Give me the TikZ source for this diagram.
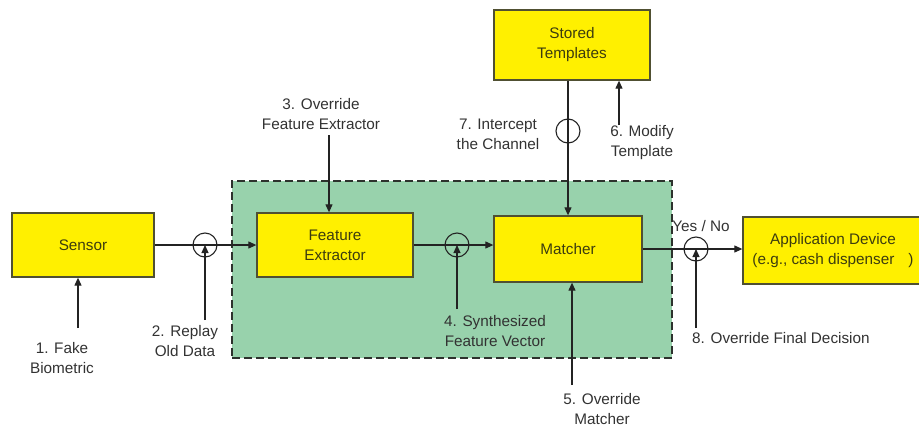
\documentclass[tikz,border=0pt]{standalone}
\usepackage{fontspec}
\setmainfont{Liberation Sans}
\usetikzlibrary{arrows.meta}
\definecolor{boxyellow}{RGB}{255,240,0}
\definecolor{boxborder}{RGB}{80,80,50}
\definecolor{boxtext}{RGB}{60,60,15}
\definecolor{zonefill}{RGB}{152,210,172}
\definecolor{zoneline}{RGB}{45,50,45}
\definecolor{labeltext}{RGB}{50,50,50}
\definecolor{linecol}{RGB}{35,35,35}
\begin{document}
\begin{tikzpicture}[x=1pt,y=-1pt,
  font=\fontsize{15.3}{20}\selectfont,
  block/.style={draw=boxborder, line width=1.3pt, fill=boxyellow, text=boxtext, align=center, inner sep=0pt},
  lbl/.style={text=labeltext, align=center, inner sep=0pt},
  arr/.style={draw=linecol, line width=1.1pt, -{Triangle[length=8pt,width=7pt]}},
  tap/.style={circle, draw=linecol, line width=1.1pt, minimum size=24pt, inner sep=0pt}]
\useasboundingbox (0,0) rectangle (919,426);
% trusted zone
\node[draw=zoneline, fill=zonefill, line width=2pt, dash pattern=on 8pt off 4pt,
      minimum width=440pt, minimum height=177pt, inner sep=0pt] (zone) at (452,269.5) {};
% blocks
\node[block, minimum width=142pt, minimum height=64pt] (sensor) at (83,245) {Sensor};
\node[block, minimum width=156pt, minimum height=64pt] (fe) at (335,245) {Feature\\Extractor};
\node[block, minimum width=148pt, minimum height=66pt] (mat) at (568,249) {Matcher};
\node[block, minimum width=156pt, minimum height=70pt] (st) at (572,45) {Stored\\Templates};
\node[block, minimum width=180pt, minimum height=67pt] (app) at (833,250.5) {Application Device\\(e.g., cash dispenser\hspace{14pt})};
% tap circles
\node[tap] (c2) at (205,245) {};
\node[tap] (c4) at (457,245) {};
\node[tap] (c7) at (568,131) {};
\node[tap] (c8) at (696,249) {};
% main flow
\draw[arr] (sensor.east) -- (fe.west);
\draw[arr] (fe.east) -- (fe.east -| mat.west);
\draw[arr] (st.south -| c7) -- (mat.north -| c7);
\draw[arr] (mat.east |- c8) -- (app.west |- c8);
% labels
\node[lbl] (l1) at (62,358) {1. Fake\\Biometric};
\node[lbl] (l2) at (185,341) {2. Replay\\Old Data};
\node[lbl] (l3) at (321,114) {3. Override\\Feature Extractor};
\node[lbl] (l4) at (495,331) {4. Synthesized\\Feature Vector};
\node[lbl] (l5) at (602,409) {5. Override\\Matcher};
\node[lbl] (l6) at (642,143) {6. Modify\\Template};
\node[lbl] (l7) at (498,134) {7. Intercept\\the Channel};
\node[lbl, anchor=west] (l8) at (692,338) {8. Override Final Decision};
\node[lbl] (yn) at (701,226) {Yes / No};
% attack arrows
\coordinate (a1) at (78,328);
\coordinate (a2) at (205,320);
\coordinate (a3) at (329,135);
\coordinate (a4) at (457,309);
\coordinate (a5) at (572,385);
\coordinate (a6) at (619,125);
\coordinate (a8) at (696,328);
\draw[arr] (a1) -- (sensor.south -| a1);
\draw[arr] (a2) -- (c2.center);
\draw[arr] (a3) -- (fe.north -| a3);
\draw[arr] (a4) -- (c4.center);
\draw[arr] (a5) -- (mat.south -| a5);
\draw[arr] (a6) -- (st.south -| a6);
\draw[arr] (a8) -- (c8.center);
\end{tikzpicture}
\end{document}
